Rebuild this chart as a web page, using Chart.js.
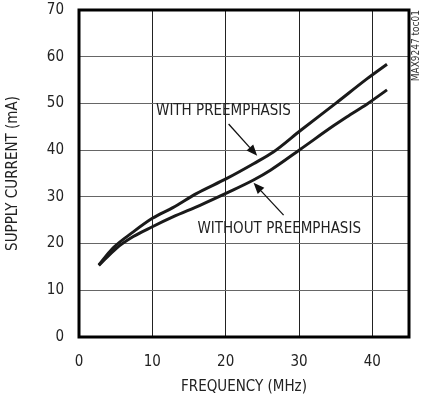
<!DOCTYPE html>
<html>
<head>
<meta charset="utf-8">
<script src="https://cdn.jsdelivr.net/npm/chart.js@4/dist/chart.umd.min.js"></script>
<style>
html,body{margin:0;padding:0;background:#fff;}
#wrap{width:422px;height:402px;position:relative;}
</style>
</head>
<body>
<div id="wrap"><canvas id="c" width="422" height="402"></canvas></div>
<script>
const freqWith = [2.7, 4.6, 7.4, 10, 12.8, 16, 20.1, 23.8, 26.5, 30.2, 35, 39.3, 42];
const currWith = [15.4, 19.0, 22.5, 25.4, 27.7, 30.7, 33.9, 37.1, 39.6, 44.2, 50.0, 55.3, 58.4];
const freqWithout = [2.7, 5.1, 7.4, 10, 12.8, 16.5, 20.1, 23.8, 26.1, 30.2, 34.7, 36.5, 39.3, 42];
const currWithout = [15.3, 19.0, 21.5, 23.6, 25.7, 28.2, 30.8, 33.6, 35.7, 40.2, 45.2, 47.1, 49.9, 52.9];
const xTicks = [0, 10, 20, 30, 40];
const yTicks = [0, 10, 20, 30, 40, 50, 60, 70];
const seriesNames = ['WITH PREEMPHASIS', 'WITHOUT PREEMPHASIS'];

const FONT = '"Liberation Sans Narrow", "DejaVu Sans Condensed", "Liberation Sans", sans-serif';

function pts(xs, ys){ return xs.map((x,i)=>({x:x, y:ys[i]})); }

const annotations = [
  {text: seriesNames[0], tx: 19.7, ty: 48.3, ax1: 20.4, ay1: 45.6, ax2: 24.3, ay2: 38.8},
  {text: seriesNames[1], tx: 27.3, ty: 23.1, ax1: 27.9, ay1: 26.1, ax2: 23.8, ay2: 33.0}
];

const annoPlugin = {
  id: 'anno',
  afterDatasetsDraw(chart){
    const ctx = chart.ctx, xs = chart.scales.x, ys = chart.scales.y;
    ctx.save();
    ctx.strokeStyle = '#111';
    ctx.font = '15px ' + FONT;
    ctx.textAlign = 'center';
    ctx.textBaseline = 'middle';
    annotations.forEach(a=>{
      ctx.fillStyle = '#222';
      ctx.fillText(a.text, xs.getPixelForValue(a.tx), ys.getPixelForValue(a.ty));
      const x1 = xs.getPixelForValue(a.ax1), y1 = ys.getPixelForValue(a.ay1);
      const x2 = xs.getPixelForValue(a.ax2), y2 = ys.getPixelForValue(a.ay2);
      const ang = Math.atan2(y2-y1, x2-x1);
      const hl = 11, hw = 4.5;
      const bx = x2 - hl*Math.cos(ang), by = y2 - hl*Math.sin(ang);
      ctx.lineWidth = 1.3;
      ctx.beginPath(); ctx.moveTo(x1,y1); ctx.lineTo(bx,by); ctx.stroke();
      ctx.beginPath();
      ctx.moveTo(x2,y2);
      ctx.lineTo(bx + hw*Math.sin(ang), by - hw*Math.cos(ang));
      ctx.lineTo(bx - hw*Math.sin(ang), by + hw*Math.cos(ang));
      ctx.closePath(); ctx.fillStyle='#111'; ctx.fill();
    });
    const ca = chart.chartArea;
    ctx.lineWidth = 3;
    ctx.strokeStyle = '#000';
    ctx.strokeRect(ca.left, ca.top, ca.right-ca.left, ca.bottom-ca.top);
    ctx.save();
    ctx.translate(416, 10);
    ctx.rotate(-Math.PI/2);
    ctx.font = '10px ' + FONT;
    ctx.fillStyle = '#333';
    ctx.textAlign = 'right';
    ctx.textBaseline = 'middle';
    ctx.fillText('MAX9247 toc01', 0, 0);
    ctx.restore();
    ctx.restore();
  }
};

new Chart(document.getElementById('c'), {
  type: 'line',
  data: {
    datasets: [
      {label: seriesNames[0], data: pts(freqWith, currWith), borderColor:'#1a1a1a', borderWidth:3, pointRadius:0, cubicInterpolationMode:'monotone', fill:false},
      {label: seriesNames[1], data: pts(freqWithout, currWithout), borderColor:'#1a1a1a', borderWidth:3, pointRadius:0, cubicInterpolationMode:'monotone', fill:false}
    ]
  },
  options: {
    responsive:false,
    animation:false,
    layout:{padding:{top:10, right:13, left:0, bottom:0}},
    plugins:{legend:{display:false}, tooltip:{enabled:false}},
    scales:{
      x:{
        type:'linear', min:0, max:45,
        afterBuildTicks(s){ s.ticks = xTicks.map(v=>({value:v})); },
        afterFit(s){ s.height = 65; s.paddingLeft = 0; s.paddingRight = 0; },
        grid:{color:'#222', lineWidth:1, drawTicks:false},
        border:{display:false},
        ticks:{color:'#222', font:{family:FONT, size:15}, padding:16, maxRotation:0},
        title:{display:true, text:'FREQUENCY (MHz)', color:'#222', font:{family:FONT, size:15}, padding:{top:0, bottom:6}}
      },
      y:{
        type:'linear', min:0, max:70,
        afterBuildTicks(s){ s.ticks = yTicks.map(v=>({value:v})); },
        afterFit(s){ s.width = 79; s.paddingTop = 0; s.paddingBottom = 0; },
        grid:{color:'#666', lineWidth:1, drawTicks:false},
        border:{display:false},
        ticks:{color:'#222', font:{family:FONT, size:15}, padding:15},
        title:{display:true, text:'SUPPLY CURRENT (mA)', color:'#222', font:{family:FONT, size:15}, padding:{bottom:4}}
      }
    }
  },
  plugins:[annoPlugin]
});
</script>
</body>
</html>
